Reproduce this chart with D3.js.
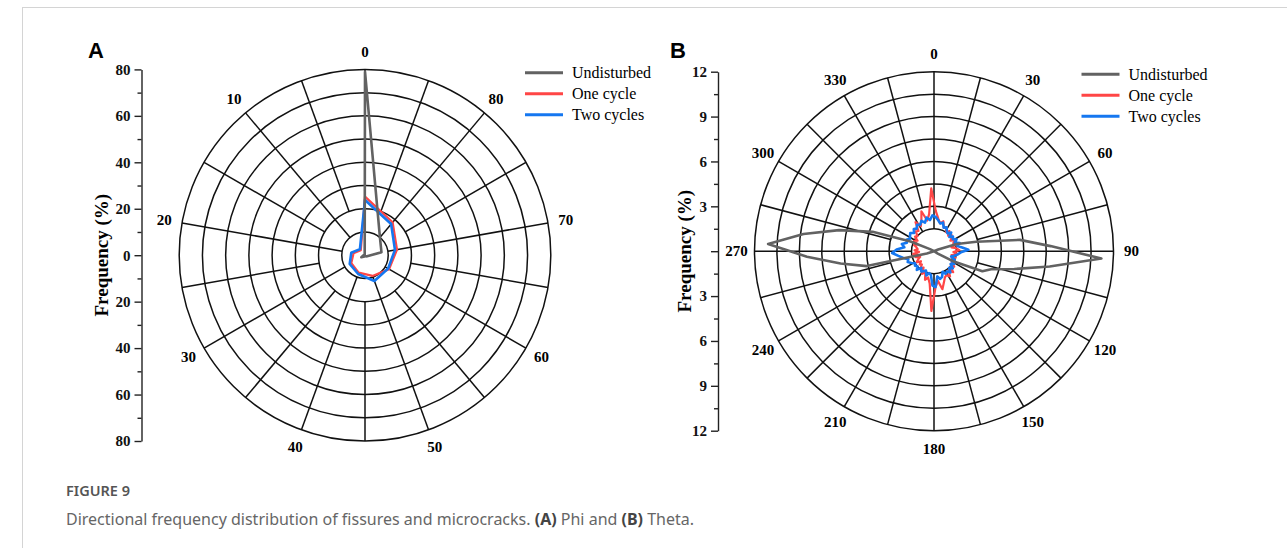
<!DOCTYPE html>
<html>
<head>
<meta charset="utf-8">
<script src="https://cdn.jsdelivr.net/npm/d3@7"></script>
<style>
  body { margin: 0; background: #fff; }
  svg text { font-family: "Liberation Serif", "Times New Roman", serif; }
</style>
</head>
<body>
<svg id="fig" width="1287" height="548"></svg>
<script>
// ---- data: panel A (Phi, 0-90 over the full circle, counter-clockwise) ----
const phiBins = [0, 10, 20, 30, 40, 50, 60, 70, 80];
const phiUndisturbed = [79, 0.2, 0.5, 1.8, 0.6, 0.4, 1.0, 7.2, 10];
const phiOneCycle = [25.2, 2.8, 5.0, 6.8, 8.0, 9.5, 12.0, 14.0, 18.5];
const phiTwoCycles = [23.8, 3.4, 6.0, 7.6, 8.6, 11.8, 11.5, 13.1, 17.5];
const phiAngleTicks = [0, 10, 20, 30, 40, 50, 60, 70, 80];
const phiRings = [10, 20, 30, 40, 50, 60, 70, 80];
const phiAxisTicks = [-80, -60, -40, -20, 0, 20, 40, 60, 80];

// ---- data: panel B (Theta, 0-360 clockwise, 5 degree bins) ----
const thetaBins = [
  2.5, 7.5, 12.5, 17.5, 22.5, 27.5, 32.5, 37.5, 42.5, 47.5, 52.5, 57.5,
  62.5, 67.5, 72.5, 77.5, 82.5, 87.5, 92.5, 97.5, 102.5, 107.5, 112.5, 117.5,
  122.5, 127.5, 132.5, 137.5, 142.5, 147.5, 152.5, 157.5, 162.5, 167.5, 172.5, 177.5,
  182.5, 187.5, 192.5, 197.5, 202.5, 207.5, 212.5, 217.5, 222.5, 227.5, 232.5, 237.5,
  242.5, 247.5, 252.5, 257.5, 262.5, 267.5, 272.5, 277.5, 282.5, 287.5, 292.5, 297.5,
  302.5, 307.5, 312.5, 317.5, 322.5, 327.5, 332.5, 337.5, 342.5, 347.5, 352.5, 357.5
];
const thetaUndisturbed = [
  0, 0, 0, 0, 0, 0, 0, 0, 0, 0, 0, 0,
  0, 0.3, 1.6, 2.9, 5.8, 7.8, 11.2, 7.8, 5.5, 4.0, 3.5, 1.5,
  0.3, 0, 0, 0, 0, 0, 0, 0, 0, 0, 0, 0,
  0, 0, 0, 0, 0, 0, 0, 0, 0, 0, 0, 0,
  0, 0, 0.5, 4.6, 6.3, 8.5, 11.1, 8.8, 6.5, 4.3, 1.7, 0.3,
  0, 0, 0, 0, 0, 0, 0, 0, 0, 0, 0, 0
];
const thetaOneCycle = [
  2.7, 2.2, 1.9, 2.1, 1.7, 1.8, 1.5, 1.7, 1.4, 1.6, 1.5, 1.3,
  1.6, 1.4, 1.6, 1.2, 1.5, 1.7, 1.3, 1.6, 1.2, 1.5, 1.3, 1.6,
  1.4, 1.7, 1.5, 1.9, 1.6, 2.0, 1.8, 1.9, 2.2, 2.6, 2.0, 2.4,
  4.0, 2.2, 1.8, 2.0, 1.5, 1.7, 1.3, 1.5, 1.2, 1.3, 1.1, 1.4,
  1.2, 1.0, 1.3, 1.1, 1.4, 1.0, 1.3, 1.1, 1.2, 1.4, 1.2, 1.5,
  1.3, 1.6, 1.5, 1.8, 1.7, 2.3, 1.9, 2.2, 2.8, 2.1, 2.5, 4.2
];
const thetaTwoCycles = [
  2.3, 2.1, 1.9, 2.0, 1.7, 1.8, 1.6, 1.5, 1.7, 1.4, 1.6, 1.5,
  1.7, 1.5, 1.8, 1.6, 1.9, 2.3, 1.8, 1.6, 1.4, 1.2, 1.5, 1.3,
  1.6, 1.4, 1.7, 1.5, 1.8, 1.6, 1.7, 1.5, 1.8, 1.9, 1.7, 2.4,
  2.3, 1.6, 1.5, 1.7, 1.4, 1.5, 1.6, 1.4, 1.7, 1.5, 1.6, 1.5,
  1.7, 1.9, 1.8, 2.1, 2.4, 2.8, 2.5, 2.0, 2.2, 1.9, 2.0, 1.8,
  1.9, 2.0, 1.8, 2.0, 1.9, 2.1, 2.0, 2.2, 2.0, 2.3, 2.1, 2.4
];
const thetaAngleTicks = [0, 30, 60, 90, 120, 150, 180, 210, 240, 270, 300, 330];
const thetaRings = [1.5, 3, 4.5, 6, 7.5, 9, 10.5, 12];
const thetaAxisTicks = [-12, -9, -6, -3, 0, 3, 6, 9, 12];

const seriesNames = ["Undisturbed", "One cycle", "Two cycles"];
const seriesColors = ["#626262", "#ff4646", "#1577f0"];
const seriesWidths = [2.6, 2.2, 2.6];

const svg = d3.select("#fig");

// page frame
svg.append("line").attr("x1", 22).attr("x2", 1287).attr("y1", 7.5).attr("y2", 7.5).attr("stroke", "#d4d4d4");
svg.append("line").attr("x1", 22.5).attr("x2", 22.5).attr("y1", 7).attr("y2", 548).attr("stroke", "#d4d4d4");

function drawPolar(cfg) {
  const g = svg.append("g").attr("transform", `translate(${cfg.cx},${cfg.cy})`);
  const r = d3.scaleLinear().domain([0, cfg.rMax]).range([0, cfg.R]);
  const a = d3.scaleLinear().domain([0, cfg.aMax]).range([0, cfg.dir * 2 * Math.PI]);
  const pt = (ang, rad) => [rad * Math.sin(ang), -rad * Math.cos(ang)];

  // rings
  g.selectAll("circle.ring").data(cfg.rings).join("circle")
    .attr("class", "ring")
    .attr("r", d => r(d))
    .attr("fill", "none").attr("stroke", "#111").attr("stroke-width", 1.5);

  // spokes: labelled ones reach the first ring, the others stop at the second
  const spokes = d3.range(0, cfg.aMax, cfg.spokeStep);
  g.selectAll("line.spoke").data(spokes).join("line")
    .attr("class", "spoke")
    .each(function(d) {
      const major = cfg.angleTicks.includes(d);
      const p0 = pt(a(d), r(major ? cfg.rings[0] : cfg.rings[1]));
      const p1 = pt(a(d), cfg.R);
      d3.select(this).attr("x1", p0[0]).attr("y1", p0[1]).attr("x2", p1[0]).attr("y2", p1[1]);
    })
    .attr("stroke", "#111").attr("stroke-width", 1.5);

  // angular labels
  g.selectAll("text.alab").data(cfg.angleTicks).join("text")
    .attr("class", "alab")
    .attr("x", d => pt(a(d), cfg.R + cfg.labelGap)[0])
    .attr("y", d => pt(a(d), cfg.R + cfg.labelGap)[1])
    .attr("text-anchor", "middle").attr("dy", "0.35em")
    .attr("font-size", 15).attr("font-weight", "bold")
    .text(d => d);

  // series
  const line = d3.lineRadial()
    .angle(d => a(d[0]))
    .radius(d => r(d[1]))
    .curve(d3.curveLinearClosed);
  [1, 2, 0].forEach(i => {
    g.append("path")
      .datum(d3.zip(cfg.bins, cfg.series[i]))
      .attr("d", line)
      .attr("fill", "none")
      .attr("stroke", seriesColors[i])
      .attr("stroke-width", seriesWidths[i])
      .attr("stroke-linejoin", "round");
  });

  // mirrored radial axis on the left
  const y = d3.scaleLinear().domain([-cfg.rMax, cfg.rMax]).range([cfg.cy + cfg.R, cfg.cy - cfg.R]);
  const ax = svg.append("g").attr("transform", `translate(${cfg.axisX},0)`);
  ax.call(d3.axisLeft(y).tickValues(cfg.axisTicks)
      .tickFormat(d => (d === 0 && cfg.hideZero) ? "" : Math.abs(d))
      .tickSize(7).tickSizeOuter(0).tickPadding(4));
  const minor = cfg.axisTicks.slice(1).map((d, i) => (d + cfg.axisTicks[i]) / 2);
  const axm = svg.append("g").attr("transform", `translate(${cfg.axisX},0)`);
  axm.call(d3.axisLeft(y).tickValues(minor).tickFormat("").tickSize(4).tickSizeOuter(0));
  axm.select(".domain").remove();
  [ax, axm].forEach(s => {
    s.selectAll("path, line").attr("stroke", "#222").attr("stroke-width", 1.4);
    s.selectAll("text").attr("font-size", 15).attr("font-weight", "bold").attr("fill", "#111");
  });

  svg.append("text")
    .attr("transform", `translate(${cfg.titleX},${cfg.cy}) rotate(-90)`)
    .attr("text-anchor", "middle").attr("dy", "0.35em")
    .attr("font-size", 19).attr("font-weight", "bold")
    .text("Frequency (%)");

  // panel letter
  svg.append("text").attr("x", cfg.letterX).attr("y", 58)
    .style("font-family", "'Liberation Sans', Arial, sans-serif")
    .attr("font-size", 22).attr("font-weight", "bold")
    .text(cfg.letter);

  // legend
  const lg = svg.append("g").attr("transform", `translate(${cfg.legendX},${cfg.legendY})`);
  seriesNames.forEach((name, i) => {
    const row = lg.append("g").attr("transform", `translate(0,${i * 21})`);
    row.append("line").attr("x1", 0).attr("x2", 38).attr("y1", 0).attr("y2", 0)
      .attr("stroke", seriesColors[i]).attr("stroke-width", 3);
    row.append("text").attr("x", 47).attr("dy", "0.35em").attr("font-size", 16).text(name);
  });
}

drawPolar({
  cx: 365, cy: 255.2, R: 185.8, rMax: 80, aMax: 90, dir: -1, spokeStep: 5,
  rings: phiRings, angleTicks: phiAngleTicks, labelGap: 18,
  bins: phiBins, series: [phiUndisturbed, phiOneCycle, phiTwoCycles],
  axisX: 141.5, axisTicks: phiAxisTicks, hideZero: false, titleX: 101,
  letter: "A", letterX: 88, legendX: 525, legendY: 72.7
});

drawPolar({
  cx: 934, cy: 251.2, R: 179.5, rMax: 12, aMax: 360, dir: 1, spokeStep: 15,
  rings: thetaRings, angleTicks: thetaAngleTicks, labelGap: 18,
  bins: thetaBins, series: [thetaUndisturbed, thetaOneCycle, thetaTwoCycles],
  axisX: 718, axisTicks: thetaAxisTicks, hideZero: true, titleX: 684,
  letter: "B", letterX: 670, legendX: 1081.5, legendY: 74.3
});

// caption
const capFont = "'Noto Sans', 'Open Sans', sans-serif";
svg.append("text").attr("x", 66).attr("y", 496)
  .style("font-family", capFont).attr("font-size", 14.5)
  .attr("font-weight", 600).attr("fill", "#555")
  .text("FIGURE 9");
const cap = svg.append("text").attr("x", 66).attr("y", 525)
  .style("font-family", capFont).attr("font-size", 16).attr("fill", "#666");
cap.append("tspan").text("Directional frequency distribution of fissures and microcracks. ");
cap.append("tspan").attr("font-weight", "bold").attr("fill", "#444").text("(A)");
cap.append("tspan").text(" Phi and ");
cap.append("tspan").attr("font-weight", "bold").attr("fill", "#444").text("(B)");
cap.append("tspan").text(" Theta.");
</script>
</body>
</html>
